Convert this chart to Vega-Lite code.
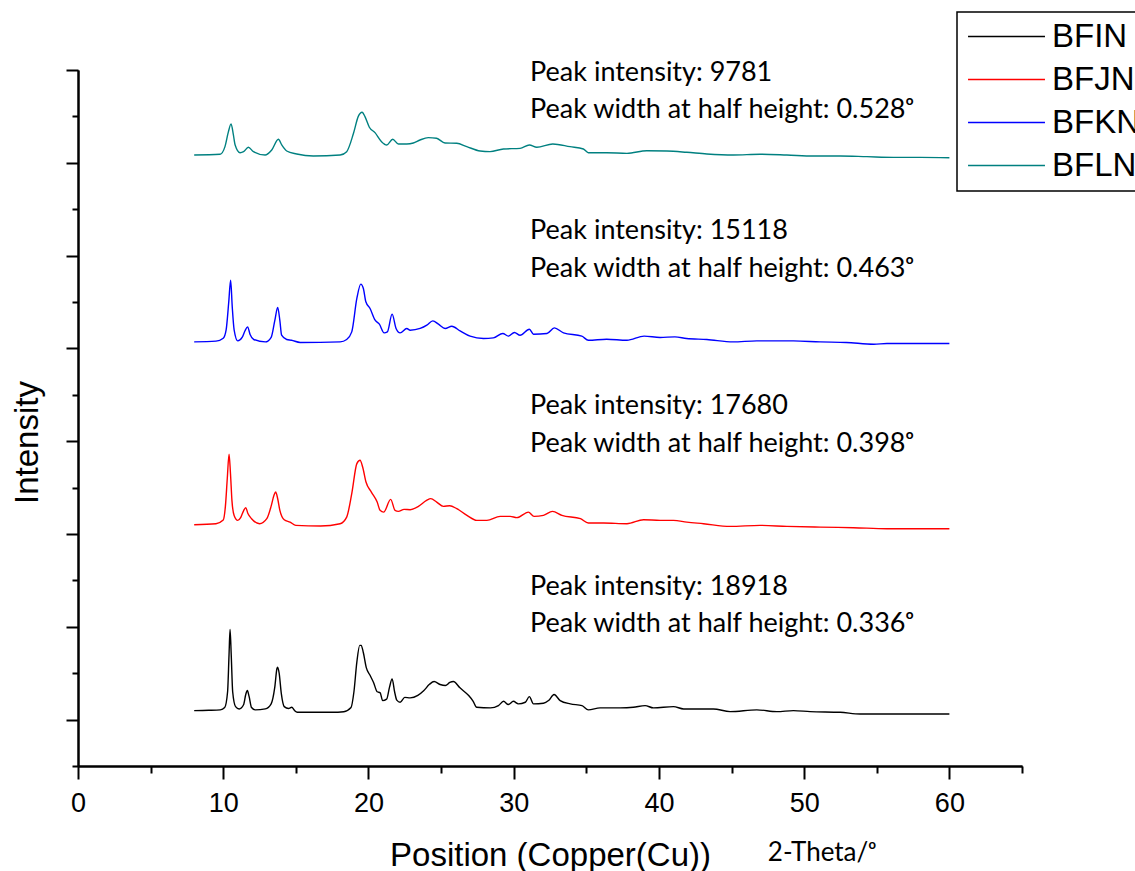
{
  "$schema": "https://vega.github.io/schema/vega-lite/v6.json",
  "width": 944,
  "height": 696,
  "autosize": {"type": "none"},
  "padding": {"left": 78, "top": 70, "right": 113, "bottom": 105},
  "background": "white",
  "config": {
    "view": {"stroke": null},
    "axis": {
      "domainColor": "black", "domainWidth": 2, "tickColor": "black", "tickWidth": 2,
      "labelColor": "black", "titleColor": "black", "grid": false,
      "labelFont": "Liberation Sans", "titleFont": "Liberation Sans", "titleFontWeight": "normal"
    },
    "legend": {
      "orient": "none", "legendX": 879, "legendY": -58,
      "symbolType": "M-1.4,0L6.6,0", "symbolSize": 370, "symbolStrokeWidth": 1.4,
      "labelFont": "Liberation Sans", "labelFontSize": 33, "labelColor": "black",
      "labelOffset": 54, "rowPadding": 9, "padding": 8,
      "strokeColor": "black", "fillColor": "white", "strokeWidth": 1.5
    }
  },
  "datasets": {
    "lines": [
      {"s":"BFIN","x":8.0,"y":0.097},{"s":"BFIN","x":9.0,"y":0.100},{"s":"BFIN","x":9.8,"y":0.105},{"s":"BFIN","x":10.1,"y":0.13},{"s":"BFIN","x":10.3,"y":0.30},{"s":"BFIN","x":10.4,"y":0.70},{"s":"BFIN","x":10.47,"y":0.971},{"s":"BFIN","x":10.55,"y":0.70},{"s":"BFIN","x":10.65,"y":0.30},{"s":"BFIN","x":10.85,"y":0.14},{"s":"BFIN","x":11.1,"y":0.115},{"s":"BFIN","x":11.4,"y":0.16},{"s":"BFIN","x":11.55,"y":0.27},{"s":"BFIN","x":11.66,"y":0.313},{"s":"BFIN","x":11.78,"y":0.25},{"s":"BFIN","x":11.95,"y":0.13},{"s":"BFIN","x":12.2,"y":0.105},{"s":"BFIN","x":12.9,"y":0.115},{"s":"BFIN","x":13.3,"y":0.17},{"s":"BFIN","x":13.55,"y":0.35},{"s":"BFIN","x":13.7,"y":0.55},{"s":"BFIN","x":13.75,"y":0.564},{"s":"BFIN","x":13.85,"y":0.50},{"s":"BFIN","x":14.0,"y":0.28},{"s":"BFIN","x":14.2,"y":0.14},{"s":"BFIN","x":14.5,"y":0.12},{"s":"BFIN","x":14.72,"y":0.133},{"s":"BFIN","x":14.9,"y":0.10},{"s":"BFIN","x":15.1,"y":0.079},{"s":"BFIN","x":17.5,"y":0.079},{"s":"BFIN","x":18.3,"y":0.085},{"s":"BFIN","x":18.8,"y":0.13},{"s":"BFIN","x":19.0,"y":0.30},{"s":"BFIN","x":19.2,"y":0.62},{"s":"BFIN","x":19.4,"y":0.80},{"s":"BFIN","x":19.5,"y":0.80},{"s":"BFIN","x":19.65,"y":0.72},{"s":"BFIN","x":19.85,"y":0.56},{"s":"BFIN","x":20.1,"y":0.48},{"s":"BFIN","x":20.35,"y":0.40},{"s":"BFIN","x":20.6,"y":0.30},{"s":"BFIN","x":20.8,"y":0.29},{"s":"BFIN","x":20.98,"y":0.205},{"s":"BFIN","x":21.25,"y":0.22},{"s":"BFIN","x":21.45,"y":0.35},{"s":"BFIN","x":21.63,"y":0.439},{"s":"BFIN","x":21.8,"y":0.30},{"s":"BFIN","x":21.95,"y":0.21},{"s":"BFIN","x":22.18,"y":0.187},{"s":"BFIN","x":22.5,"y":0.24},{"s":"BFIN","x":22.87,"y":0.234},{"s":"BFIN","x":23.4,"y":0.26},{"s":"BFIN","x":23.8,"y":0.31},{"s":"BFIN","x":24.2,"y":0.38},{"s":"BFIN","x":24.52,"y":0.41},{"s":"BFIN","x":24.93,"y":0.378},{"s":"BFIN","x":25.3,"y":0.367},{"s":"BFIN","x":25.6,"y":0.40},{"s":"BFIN","x":25.85,"y":0.41},{"s":"BFIN","x":26.3,"y":0.342},{"s":"BFIN","x":26.9,"y":0.259},{"s":"BFIN","x":27.2,"y":0.20},{"s":"BFIN","x":27.45,"y":0.133},{"s":"BFIN","x":28.4,"y":0.126},{"s":"BFIN","x":28.95,"y":0.151},{"s":"BFIN","x":29.3,"y":0.197},{"s":"BFIN","x":29.63,"y":0.162},{"s":"BFIN","x":29.98,"y":0.197},{"s":"BFIN","x":30.32,"y":0.169},{"s":"BFIN","x":30.8,"y":0.187},{"s":"BFIN","x":31.08,"y":0.248},{"s":"BFIN","x":31.36,"y":0.169},{"s":"BFIN","x":32.05,"y":0.176},{"s":"BFIN","x":32.4,"y":0.205},{"s":"BFIN","x":32.78,"y":0.27},{"s":"BFIN","x":33.2,"y":0.205},{"s":"BFIN","x":33.9,"y":0.169},{"s":"BFIN","x":34.7,"y":0.151},{"s":"BFIN","x":35.14,"y":0.105},{"s":"BFIN","x":35.95,"y":0.126},{"s":"BFIN","x":37.33,"y":0.126},{"s":"BFIN","x":38.24,"y":0.133},{"s":"BFIN","x":39.05,"y":0.151},{"s":"BFIN","x":39.62,"y":0.126},{"s":"BFIN","x":41.0,"y":0.140},{"s":"BFIN","x":41.7,"y":0.115},{"s":"BFIN","x":43.75,"y":0.115},{"s":"BFIN","x":44.9,"y":0.086},{"s":"BFIN","x":46.74,"y":0.105},{"s":"BFIN","x":48.12,"y":0.086},{"s":"BFIN","x":49.26,"y":0.097},{"s":"BFIN","x":50.41,"y":0.086},{"s":"BFIN","x":52.48,"y":0.079},{"s":"BFIN","x":53.86,"y":0.061},{"s":"BFIN","x":55.7,"y":0.061},{"s":"BFIN","x":58.0,"y":0.061},{"s":"BFIN","x":60.0,"y":0.061},

      {"s":"BFJN","x":8.0,"y":2.100},{"s":"BFJN","x":9.5,"y":2.111},{"s":"BFJN","x":10.0,"y":2.15},{"s":"BFJN","x":10.15,"y":2.30},{"s":"BFJN","x":10.28,"y":2.60},{"s":"BFJN","x":10.40,"y":2.859},{"s":"BFJN","x":10.5,"y":2.65},{"s":"BFJN","x":10.6,"y":2.36},{"s":"BFJN","x":10.75,"y":2.20},{"s":"BFJN","x":11.0,"y":2.147},{"s":"BFJN","x":11.2,"y":2.176},{"s":"BFJN","x":11.4,"y":2.25},{"s":"BFJN","x":11.55,"y":2.284},{"s":"BFJN","x":11.7,"y":2.22},{"s":"BFJN","x":11.95,"y":2.165},{"s":"BFJN","x":12.5,"y":2.111},{"s":"BFJN","x":13.0,"y":2.165},{"s":"BFJN","x":13.3,"y":2.30},{"s":"BFJN","x":13.5,"y":2.42},{"s":"BFJN","x":13.61,"y":2.452},{"s":"BFJN","x":13.75,"y":2.38},{"s":"BFJN","x":13.9,"y":2.255},{"s":"BFJN","x":14.2,"y":2.154},{"s":"BFJN","x":14.6,"y":2.128},{"s":"BFJN","x":15.0,"y":2.093},{"s":"BFJN","x":16.7,"y":2.086},{"s":"BFJN","x":18.05,"y":2.111},{"s":"BFJN","x":18.5,"y":2.182},{"s":"BFJN","x":18.85,"y":2.435},{"s":"BFJN","x":19.2,"y":2.758},{"s":"BFJN","x":19.42,"y":2.794},{"s":"BFJN","x":19.6,"y":2.722},{"s":"BFJN","x":19.83,"y":2.560},{"s":"BFJN","x":20.2,"y":2.452},{"s":"BFJN","x":20.6,"y":2.344},{"s":"BFJN","x":20.8,"y":2.255},{"s":"BFJN","x":21.05,"y":2.236},{"s":"BFJN","x":21.53,"y":2.373},{"s":"BFJN","x":21.83,"y":2.255},{"s":"BFJN","x":22.06,"y":2.244},{"s":"BFJN","x":22.45,"y":2.265},{"s":"BFJN","x":22.87,"y":2.262},{"s":"BFJN","x":23.44,"y":2.298},{"s":"BFJN","x":24.0,"y":2.362},{"s":"BFJN","x":24.29,"y":2.381},{"s":"BFJN","x":24.7,"y":2.344},{"s":"BFJN","x":25.16,"y":2.298},{"s":"BFJN","x":25.6,"y":2.305},{"s":"BFJN","x":26.08,"y":2.273},{"s":"BFJN","x":26.78,"y":2.201},{"s":"BFJN","x":27.46,"y":2.147},{"s":"BFJN","x":28.15,"y":2.147},{"s":"BFJN","x":29.07,"y":2.190},{"s":"BFJN","x":29.76,"y":2.190},{"s":"BFJN","x":30.22,"y":2.176},{"s":"BFJN","x":31.01,"y":2.236},{"s":"BFJN","x":31.4,"y":2.190},{"s":"BFJN","x":32.05,"y":2.201},{"s":"BFJN","x":32.67,"y":2.244},{"s":"BFJN","x":33.32,"y":2.201},{"s":"BFJN","x":34.6,"y":2.165},{"s":"BFJN","x":35.14,"y":2.118},{"s":"BFJN","x":36.2,"y":2.118},{"s":"BFJN","x":37.8,"y":2.111},{"s":"BFJN","x":38.94,"y":2.154},{"s":"BFJN","x":40.08,"y":2.147},{"s":"BFJN","x":41.0,"y":2.147},{"s":"BFJN","x":41.92,"y":2.128},{"s":"BFJN","x":43.07,"y":2.111},{"s":"BFJN","x":44.9,"y":2.082},{"s":"BFJN","x":46.97,"y":2.093},{"s":"BFJN","x":48.81,"y":2.082},{"s":"BFJN","x":51.1,"y":2.074},{"s":"BFJN","x":53.4,"y":2.068},{"s":"BFJN","x":55.7,"y":2.057},{"s":"BFJN","x":58.0,"y":2.057},{"s":"BFJN","x":60.0,"y":2.057},

      {"s":"BFKN","x":8.0,"y":4.070},{"s":"BFKN","x":9.5,"y":4.078},{"s":"BFKN","x":10.0,"y":4.11},{"s":"BFKN","x":10.2,"y":4.20},{"s":"BFKN","x":10.38,"y":4.50},{"s":"BFKN","x":10.51,"y":4.736},{"s":"BFKN","x":10.62,"y":4.45},{"s":"BFKN","x":10.75,"y":4.20},{"s":"BFKN","x":11.0,"y":4.081},{"s":"BFKN","x":11.3,"y":4.118},{"s":"BFKN","x":11.5,"y":4.19},{"s":"BFKN","x":11.68,"y":4.232},{"s":"BFKN","x":11.85,"y":4.15},{"s":"BFKN","x":12.1,"y":4.096},{"s":"BFKN","x":12.9,"y":4.070},{"s":"BFKN","x":13.3,"y":4.12},{"s":"BFKN","x":13.55,"y":4.30},{"s":"BFKN","x":13.75,"y":4.441},{"s":"BFKN","x":13.9,"y":4.30},{"s":"BFKN","x":14.02,"y":4.142},{"s":"BFKN","x":14.37,"y":4.096},{"s":"BFKN","x":14.7,"y":4.088},{"s":"BFKN","x":15.3,"y":4.064},{"s":"BFKN","x":18.05,"y":4.070},{"s":"BFKN","x":18.5,"y":4.096},{"s":"BFKN","x":18.85,"y":4.178},{"s":"BFKN","x":19.2,"y":4.538},{"s":"BFKN","x":19.47,"y":4.693},{"s":"BFKN","x":19.65,"y":4.646},{"s":"BFKN","x":19.82,"y":4.502},{"s":"BFKN","x":20.11,"y":4.430},{"s":"BFKN","x":20.46,"y":4.304},{"s":"BFKN","x":20.75,"y":4.261},{"s":"BFKN","x":21.08,"y":4.167},{"s":"BFKN","x":21.3,"y":4.178},{"s":"BFKN","x":21.63,"y":4.369},{"s":"BFKN","x":21.9,"y":4.215},{"s":"BFKN","x":22.18,"y":4.167},{"s":"BFKN","x":22.64,"y":4.215},{"s":"BFKN","x":22.87,"y":4.196},{"s":"BFKN","x":23.56,"y":4.215},{"s":"BFKN","x":24.02,"y":4.250},{"s":"BFKN","x":24.43,"y":4.297},{"s":"BFKN","x":24.82,"y":4.261},{"s":"BFKN","x":25.28,"y":4.215},{"s":"BFKN","x":25.74,"y":4.239},{"s":"BFKN","x":26.31,"y":4.189},{"s":"BFKN","x":27.0,"y":4.132},{"s":"BFKN","x":27.92,"y":4.107},{"s":"BFKN","x":28.6,"y":4.113},{"s":"BFKN","x":29.25,"y":4.161},{"s":"BFKN","x":29.63,"y":4.132},{"s":"BFKN","x":30.05,"y":4.172},{"s":"BFKN","x":30.44,"y":4.142},{"s":"BFKN","x":31.08,"y":4.207},{"s":"BFKN","x":31.36,"y":4.153},{"s":"BFKN","x":32.29,"y":4.161},{"s":"BFKN","x":32.8,"y":4.221},{"s":"BFKN","x":33.43,"y":4.167},{"s":"BFKN","x":34.69,"y":4.132},{"s":"BFKN","x":35.14,"y":4.088},{"s":"BFKN","x":36.4,"y":4.099},{"s":"BFKN","x":37.8,"y":4.088},{"s":"BFKN","x":38.98,"y":4.132},{"s":"BFKN","x":40.08,"y":4.118},{"s":"BFKN","x":41.1,"y":4.124},{"s":"BFKN","x":41.9,"y":4.107},{"s":"BFKN","x":43.3,"y":4.096},{"s":"BFKN","x":45.1,"y":4.070},{"s":"BFKN","x":46.74,"y":4.081},{"s":"BFKN","x":49.26,"y":4.081},{"s":"BFKN","x":51.1,"y":4.070},{"s":"BFKN","x":52.9,"y":4.064},{"s":"BFKN","x":54.8,"y":4.045},{"s":"BFKN","x":55.7,"y":4.053},{"s":"BFKN","x":58.0,"y":4.053},{"s":"BFKN","x":60.0,"y":4.053},

      {"s":"BFLN","x":8.0,"y":6.084},{"s":"BFLN","x":9.78,"y":6.092},{"s":"BFLN","x":10.12,"y":6.174},{"s":"BFLN","x":10.35,"y":6.33},{"s":"BFLN","x":10.54,"y":6.419},{"s":"BFLN","x":10.7,"y":6.30},{"s":"BFLN","x":10.82,"y":6.192},{"s":"BFLN","x":11.16,"y":6.109},{"s":"BFLN","x":11.4,"y":6.120},{"s":"BFLN","x":11.73,"y":6.167},{"s":"BFLN","x":12.08,"y":6.120},{"s":"BFLN","x":12.88,"y":6.084},{"s":"BFLN","x":13.34,"y":6.138},{"s":"BFLN","x":13.8,"y":6.253},{"s":"BFLN","x":14.03,"y":6.192},{"s":"BFLN","x":14.37,"y":6.127},{"s":"BFLN","x":15.06,"y":6.095},{"s":"BFLN","x":16.2,"y":6.073},{"s":"BFLN","x":18.05,"y":6.084},{"s":"BFLN","x":18.5,"y":6.120},{"s":"BFLN","x":18.97,"y":6.318},{"s":"BFLN","x":19.3,"y":6.50},{"s":"BFLN","x":19.56,"y":6.545},{"s":"BFLN","x":19.76,"y":6.497},{"s":"BFLN","x":20.06,"y":6.383},{"s":"BFLN","x":20.45,"y":6.325},{"s":"BFLN","x":20.9,"y":6.228},{"s":"BFLN","x":21.26,"y":6.192},{"s":"BFLN","x":21.67,"y":6.253},{"s":"BFLN","x":22.06,"y":6.203},{"s":"BFLN","x":22.63,"y":6.203},{"s":"BFLN","x":23.09,"y":6.213},{"s":"BFLN","x":23.55,"y":6.246},{"s":"BFLN","x":24.12,"y":6.271},{"s":"BFLN","x":24.69,"y":6.264},{"s":"BFLN","x":25.27,"y":6.213},{"s":"BFLN","x":26.08,"y":6.210},{"s":"BFLN","x":26.77,"y":6.174},{"s":"BFLN","x":27.69,"y":6.127},{"s":"BFLN","x":28.37,"y":6.120},{"s":"BFLN","x":29.29,"y":6.149},{"s":"BFLN","x":30.44,"y":6.156},{"s":"BFLN","x":31.08,"y":6.192},{"s":"BFLN","x":31.59,"y":6.167},{"s":"BFLN","x":32.69,"y":6.203},{"s":"BFLN","x":33.88,"y":6.174},{"s":"BFLN","x":34.8,"y":6.149},{"s":"BFLN","x":35.14,"y":6.109},{"s":"BFLN","x":36.4,"y":6.109},{"s":"BFLN","x":37.8,"y":6.102},{"s":"BFLN","x":39.17,"y":6.130},{"s":"BFLN","x":40.55,"y":6.127},{"s":"BFLN","x":41.92,"y":6.113},{"s":"BFLN","x":43.3,"y":6.095},{"s":"BFLN","x":45.13,"y":6.084},{"s":"BFLN","x":46.97,"y":6.092},{"s":"BFLN","x":48.81,"y":6.084},{"s":"BFLN","x":50.64,"y":6.073},{"s":"BFLN","x":52.48,"y":6.073},{"s":"BFLN","x":54.32,"y":6.066},{"s":"BFLN","x":56.15,"y":6.059},{"s":"BFLN","x":58.0,"y":6.059},{"s":"BFLN","x":60.0,"y":6.055}
    ],
    "notes": [
      {"x": 31.13, "y": 1.348, "label": "Peak intensity: 18918"},
      {"x": 31.13, "y": 0.942, "label": "Peak width at half height: 0.336ᵒ"},
      {"x": 31.13, "y": 3.288, "label": "Peak intensity: 17680"},
      {"x": 31.13, "y": 2.883, "label": "Peak width at half height: 0.398ᵒ"},
      {"x": 31.13, "y": 5.176, "label": "Peak intensity: 15118"},
      {"x": 31.13, "y": 4.771, "label": "Peak width at half height: 0.463ᵒ"},
      {"x": 31.13, "y": 6.885, "label": "Peak intensity: 9781"},
      {"x": 31.13, "y": 6.480, "label": "Peak width at half height: 0.528ᵒ"}
    ],
    "unit": [
      {"x": 47.5, "y": -1.52, "label": "2-Theta/ᵒ"}
    ]
  },
  "resolve": {"axis": {"x": "independent", "y": "independent"}},
  "layer": [
    {
      "data": {"name": "lines"},
      "mark": {"type": "line", "strokeWidth": 1.4, "interpolate": "monotone"},
      "encoding": {
        "x": {"field": "x", "type": "quantitative",
          "scale": {"domain": [0, 65], "nice": false, "zero": false},
          "axis": {"orient": "bottom", "values": [0, 10, 20, 30, 40, 50, 60], "tickSize": 13,
            "labelFontSize": 27, "labelPadding": 11, "labelFlush": false,
            "title": "Position (Copper(Cu))", "titleFontSize": 33, "titleBaseline": "alphabetic", "titleY": 99, "titleX": 472, "titleAlign": "center"}},
        "y": {"field": "y", "type": "quantitative",
          "scale": {"domain": [-0.5, 7], "nice": false, "zero": false},
          "axis": {"orient": "left", "values": [0, 1, 2, 3, 4, 5, 6, 7], "tickSize": 12, "labels": false,
            "title": "Intensity", "titleFontSize": 33, "titleAngle": -90, "titleBaseline": "alphabetic",
            "titleAlign": "center", "titleX": -41, "titleY": 372}},
        "color": {"field": "s", "type": "nominal",
          "scale": {"domain": ["BFIN", "BFJN", "BFKN", "BFLN"], "range": ["#000000", "#ff0000", "#0000ff", "#008080"]},
          "legend": {"title": null}}
      }
    },
    {
      "data": {"name": "notes"},
      "mark": {"type": "text", "font": "Lato", "fontSize": 27, "align": "left", "baseline": "alphabetic", "color": "black"},
      "encoding": {
        "x": {"field": "x", "type": "quantitative", "scale": {"domain": [0, 65], "nice": false, "zero": false}, "axis": null},
        "y": {"field": "y", "type": "quantitative", "scale": {"domain": [-0.5, 7], "nice": false, "zero": false}, "axis": null},
        "text": {"field": "label"}
      }
    },
    {
      "data": {"name": "unit"},
      "mark": {"type": "text", "font": "Lato", "fontSize": 26, "align": "left", "baseline": "alphabetic", "color": "black"},
      "encoding": {
        "x": {"field": "x", "type": "quantitative", "scale": {"domain": [0, 65], "nice": false, "zero": false},
          "axis": {"orient": "bottom", "values": [5, 15, 25, 35, 45, 55, 65], "tickSize": 7, "labels": false, "title": null}},
        "y": {"field": "y", "type": "quantitative", "scale": {"domain": [-0.5, 7], "nice": false, "zero": false},
          "axis": {"orient": "left", "values": [-0.5, 0.5, 1.5, 2.5, 3.5, 4.5, 5.5, 6.5], "tickSize": 6, "labels": false, "title": null}},
        "text": {"field": "label"}
      }
    }
  ]
}
